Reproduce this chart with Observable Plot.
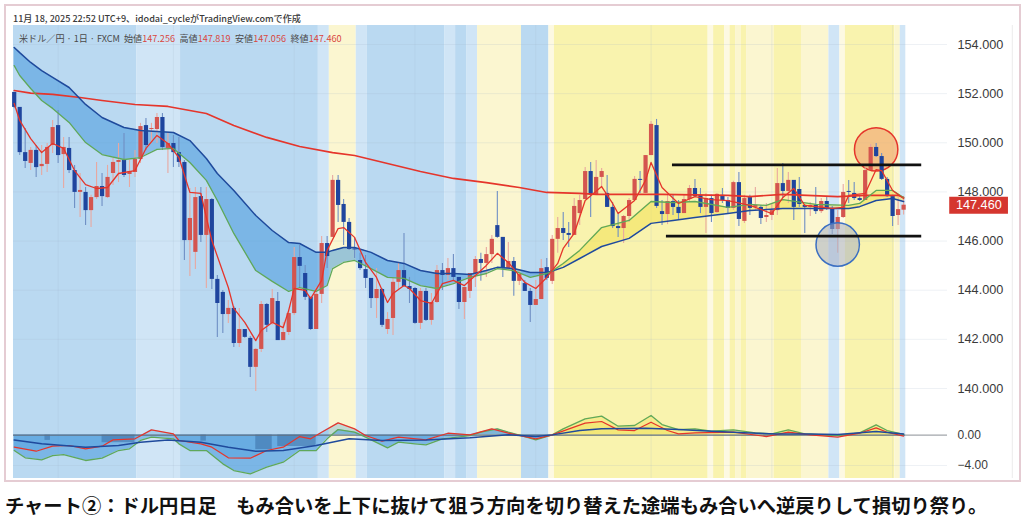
<!DOCTYPE html>
<html lang="ja">
<head>
<meta charset="utf-8">
<script src="https://cdn.jsdelivr.net/npm/d3@7"></script>
<script src="https://cdn.jsdelivr.net/npm/@observablehq/plot@0.6"></script>
<style>
html,body{margin:0;padding:0;background:#fff;}
#page{position:relative;width:1024px;height:521px;overflow:hidden;background:#fff;}
#frame{position:absolute;left:4px;top:4px;width:1013px;height:474px;border:2px solid #e5ccd3;box-sizing:content-box;}
#stamp{position:absolute;left:13px;top:11px;font:500 9.1px "Noto Sans CJK JP","Noto Sans",sans-serif;color:#3a3a3a;white-space:nowrap;}
#legend{position:absolute;left:19px;top:31px;font:400 9.1px "Noto Sans CJK JP","Noto Sans",sans-serif;color:#4a4a4a;white-space:nowrap;z-index:5;}
#legend b{font-weight:400;color:#d9463e;margin-right:4.5px;}
#legend i{font-style:normal;margin-right:4px;}
#priceChart{position:absolute;left:0;top:25px;}
#oscChart{position:absolute;left:0;top:420px;}
#caption{position:absolute;left:5px;top:491px;font:700 19.3px "Noto Sans CJK JP",sans-serif;color:#111;white-space:nowrap;}
svg{display:block;overflow:visible;}
</style>
</head>
<body>
<div id="page">
  <div id="frame"></div>
  <div id="priceChart"></div>
  <div id="oscChart"></div>
  <div id="stamp">11月 18, 2025 22:52 UTC+9、idodai_cycleがTradingView.comで作成</div>
  <div id="legend"><i>米ドル／円 · 1日 · FXCM</i><span>始値</span><b>147.256</b><span>高値</span><b>147.819</b><span>安値</span><b>147.056</b><span>終値</span><b>147.460</b></div>
  <div id="caption">チャート②：ドル円日足　もみ合いを上下に抜けて狙う方向を切り替えた途端もみ合いへ逆戻りして損切り祭り。</div>
</div>
<script>
const openPrice = [152.05,151.44,149.60,149.16,149.69,149.03,149.12,149.89,150.70,149.52,149.77,148.87,147.98,147.98,147.24,147.77,148.22,147.77,148.75,149.20,149.28,148.71,148.79,149.32,150.70,150.54,150.54,151.03,149.77,149.97,149.60,149.20,146.02,145.54,147.81,146.23,147.69,144.44,143.91,143.01,143.26,141.83,142.40,142.04,140.86,141.59,143.42,142.65,143.54,141.95,142.28,143.05,145.33,144.68,143.71,142.40,143.83,145.90,146.15,148.47,147.49,146.76,145.68,145.21,144.84,144.48,143.66,144.03,142.40,142.85,144.32,144.80,144.15,144.07,142.65,143.95,142.77,143.50,144.80,144.60,144.88,144.52,143.50,143.95,144.68,145.25,145.09,145.45,146.63,146.15,144.88,145.17,144.36,144.27,143.95,143.38,143.62,144.92,144.36,146.07,146.51,146.31,146.23,147.12,147.69,148.83,147.86,148.59,147.94,147.37,146.59,146.51,147.00,147.65,148.51,147.94,149.48,150.70,147.20,147.08,147.61,147.37,147.12,147.69,148.14,147.86,147.37,147.73,147.16,147.86,147.65,147.33,148.38,146.80,147.77,147.37,147.37,146.96,147.04,147.24,148.34,148.02,148.47,148.10,147.45,147.37,147.45,147.20,147.61,147.33,146.47,146.96,148.02,147.94,147.73,147.65,148.87,149.81,149.44,148.51,147.81,147.04,147.256];
const closePrice = [151.44,149.60,149.24,149.69,148.99,149.12,149.81,150.62,149.48,149.81,148.87,147.98,148.06,147.24,147.77,148.22,147.81,148.59,149.20,149.28,148.67,148.83,149.32,150.66,149.89,150.58,151.03,149.81,149.97,149.60,149.20,146.02,146.92,147.77,146.23,147.69,144.44,143.46,143.01,143.26,141.83,142.40,142.08,140.86,141.59,143.42,142.57,143.66,141.95,142.28,143.05,145.33,144.97,143.71,142.40,143.83,145.90,145.37,148.47,147.45,146.76,145.66,145.64,144.88,144.48,143.66,144.03,142.57,142.81,144.32,144.80,144.15,144.03,142.65,143.95,142.77,143.50,144.80,144.60,144.88,144.52,143.50,144.11,144.68,145.25,145.09,145.45,146.07,146.15,144.88,145.17,144.36,144.64,143.95,143.38,143.62,144.88,144.48,146.07,146.51,146.31,146.23,147.41,147.65,148.83,147.86,148.59,148.83,147.37,146.59,146.51,147.00,147.65,148.51,148.47,149.48,150.75,147.41,147.08,147.61,147.37,147.12,147.69,148.14,147.81,147.37,147.73,147.12,147.90,147.65,147.33,148.38,146.88,147.73,147.33,147.45,146.92,147.04,147.24,148.34,148.02,148.47,147.37,147.49,147.37,147.45,147.20,147.61,147.33,146.47,146.96,147.98,147.98,147.73,147.65,148.87,149.81,149.44,148.51,147.81,147.00,147.28,147.46];
const highPrice = [152.05,151.44,150.58,149.81,149.89,149.89,149.97,150.91,151.31,150.22,150.22,149.08,148.75,148.18,147.86,149.20,148.75,149.08,149.36,149.97,150.38,149.28,149.69,150.79,150.99,150.79,151.19,151.19,150.42,150.30,150.22,149.28,148.14,148.18,148.18,148.18,147.73,144.60,143.99,143.58,143.34,143.26,142.40,142.12,141.63,143.54,143.46,144.03,143.91,142.69,143.18,145.74,145.82,145.01,143.71,144.11,146.19,146.19,148.67,148.67,147.69,146.92,146.15,145.50,145.41,144.48,144.88,144.07,143.09,144.48,145.09,146.31,144.52,144.11,144.07,144.07,143.87,145.01,145.09,145.29,145.45,144.52,144.11,144.68,145.37,145.50,145.74,146.23,148.02,146.15,145.94,145.33,144.80,144.40,144.07,144.40,145.25,145.29,146.23,146.96,147.16,146.76,147.73,147.86,148.99,149.20,149.28,148.95,148.67,147.57,147.12,147.04,147.73,148.63,148.83,149.48,150.87,150.95,147.65,147.86,147.86,147.65,147.86,148.26,148.51,148.14,147.94,147.86,147.94,148.14,147.77,148.43,148.79,147.86,147.86,148.18,147.45,147.53,147.53,148.95,149.16,148.79,148.47,148.59,147.49,147.57,148.18,147.73,147.77,147.41,147.24,148.30,148.47,148.38,147.86,148.99,149.93,149.97,149.56,148.59,147.86,147.81,147.819];
const lowPrice = [151.39,149.48,148.95,148.87,148.59,148.67,148.79,149.56,149.16,148.14,148.75,147.33,146.96,146.63,146.55,147.69,147.41,147.73,148.26,148.38,148.59,148.18,148.59,149.16,149.69,149.97,149.97,149.69,148.75,148.99,148.99,145.21,144.56,144.84,145.94,144.07,144.03,142.08,142.24,142.65,141.67,141.67,142.04,140.45,139.88,141.47,142.28,142.57,141.95,141.95,142.16,142.97,144.11,143.58,142.36,142.40,143.46,144.88,146.15,146.76,145.82,145.62,145.29,144.80,144.07,143.26,142.85,142.48,142.20,142.16,143.99,144.11,143.46,142.61,142.40,142.73,142.57,143.46,143.99,144.40,144.40,143.22,142.81,143.66,144.11,144.36,144.52,145.09,146.11,144.52,144.80,143.75,144.19,143.95,142.69,143.38,143.62,144.40,144.23,145.50,146.02,145.74,146.23,146.63,147.69,146.96,147.86,148.18,147.37,146.51,146.15,145.90,146.76,147.65,147.94,147.94,149.48,147.33,146.63,146.67,147.04,146.84,147.12,147.57,147.77,147.12,146.31,146.76,147.12,147.53,147.12,147.24,146.59,146.72,147.04,147.24,146.67,146.76,146.84,147.04,147.73,147.53,146.84,147.37,146.31,147.00,147.08,147.12,147.24,146.27,145.50,146.92,147.53,147.65,147.61,147.65,148.87,149.40,148.47,147.77,146.59,146.63,147.056];

const maLongDay = [0,3,7,12,16,22,28,35,40,46,52,58,62,68,74,80,86,92,97,103,106,118,130,134,140,150,155,161,162];
const maLong = [152.13,152.02,151.97,151.84,151.72,151.56,151.48,151.19,150.70,150.22,149.85,149.60,149.48,149.16,148.83,148.55,148.38,148.18,147.98,147.94,147.90,147.90,147.86,147.81,147.90,147.81,147.86,147.86,147.77];

const emaDay = [0,1,3,5,7,9,11,13,15,17,19,22,24,26,28,30,32,34,35,36,39,40,42,44,45,47,49,50,51,53,54,56,57,59,60,62,64,66,68,69,71,72,74,76,78,80,82,84,86,88,90,93,95,97,99,100,102,104,107,109,110,113,115,116,118,121,124,127,130,134,138,140,142,144,149,151,152,155,157,158,160,162];
const ema = [151.60,150.91,150.17,149.60,149.97,149.77,148.87,148.30,148.14,148.18,148.75,148.87,149.77,150.30,149.97,149.40,147.98,147.94,146.96,146.02,144.11,143.26,142.69,141.95,142.36,142.69,142.48,143.18,144.07,143.99,143.66,144.40,145.62,146.51,146.55,146.15,145.13,144.52,143.50,143.87,144.19,144.07,143.58,143.46,144.27,144.40,144.19,144.60,145.01,145.50,145.13,144.32,144.07,144.52,145.09,145.70,146.31,147.65,148.22,147.53,147.12,147.65,148.47,149.20,148.18,147.53,147.81,147.69,147.65,147.45,147.12,147.77,148.14,147.45,147.33,147.37,147.86,147.94,148.91,148.87,148.06,147.73];

const bandDay = [0,1,3,5,7,10,13,16,20,23,26,29,32,35,37,40,44,47,50,52,55,57,58,60,62,65,68,71,74,77,80,83,86,88,91,94,97,98,100,103,107,112,116,120,124,130,134,137,140,146,152,154,157,160,162];
const slowUpper = [153.88,153.67,153.27,152.94,152.66,152.25,151.56,151.03,150.62,150.50,150.46,150.42,150.09,149.36,148.75,148.06,147.04,146.43,145.94,145.90,145.54,145.54,145.62,145.74,145.74,145.54,145.21,145.09,144.80,144.68,144.68,144.64,144.80,144.93,144.88,144.72,144.72,144.78,144.93,145.29,145.78,146.11,146.72,146.84,146.96,147.12,147.24,147.28,147.33,147.33,147.33,147.40,147.65,147.73,147.61];
const slowLower = [153.14,152.74,152.21,151.72,151.40,150.83,150.01,149.52,149.32,149.40,149.73,149.77,149.20,148.47,147.65,146.31,144.80,144.36,143.95,144.11,143.95,144.19,144.88,145.13,145.21,144.88,144.52,144.48,144.19,144.07,144.27,144.52,144.68,144.88,144.80,144.52,144.68,144.78,145.09,145.62,146.55,146.84,147.61,147.57,147.61,147.37,147.49,147.45,147.69,147.49,147.45,147.53,148.06,148.06,147.77];

const oscGreenDay = [0,2,5,7,9,13,16,19,21,23,25,29,30,32,35,38,40,43,46,49,52,55,57,59,62,64,68,70,73,75,78,83,85,88,90,93,95,98,100,104,107,110,113,116,118,121,124,127,131,135,138,141,144,150,154,157,159,162];
const oscGreen = [-2.03,-2.99,-3.26,-2.69,-2.56,-3.34,-3.04,-2.03,-1.81,-0.71,-0.27,-0.49,-1.15,-2.03,-2.03,-3.78,-4.66,-5.10,-4.22,-3.56,-2.03,-2.03,-0.49,0.73,0.38,-0.27,-1.68,-0.93,-1.15,-1.28,-0.49,-0.06,0.38,0.82,0.38,-0.19,-0.63,0.03,0.82,2.14,2.49,1.17,1.26,2.58,1.39,0.73,0.82,0.51,0.69,0.30,0.16,0.69,0.16,-0.06,0.30,1.35,0.60,0.08];
const oscRedDay = [0,4,7,10,13,16,18,22,25,29,30,34,36,39,43,46,49,52,54,56,59,62,64,67,70,75,79,83,87,90,95,98,104,107,110,113,116,119,121,124,131,137,141,145,150,154,157,159,162];
const oscRed = [-1.59,-2.12,-1.46,-1.37,-1.81,-1.46,-0.63,-0.49,0.69,0.16,-0.71,-1.15,-1.59,-2.99,-3.04,-2.03,-1.59,-0.19,-0.49,0.38,1.61,0.82,-0.06,-0.80,-0.27,-0.63,0.25,0.03,0.82,0.25,-0.49,0.03,1.57,1.79,0.69,0.60,1.70,0.60,0.16,0.30,0.38,-0.19,0.38,0.03,-0.27,0.25,0.95,0.38,-0.14];
const oscBlueDay = [0,5,13,19,23,28,34,39,44,49,55,61,67,75,83,90,95,98,103,107,115,121,127,133,139,145,150,157,162];
const oscBlue = [-0.63,-1.15,-1.59,-1.37,-0.93,-0.63,-0.93,-1.59,-2.12,-2.03,-1.37,-0.49,-0.71,-0.63,-0.36,0.03,-0.19,0.03,0.60,0.82,0.91,0.73,0.51,0.30,0.16,0.16,0.08,0.47,0.16];
const histFrom = [5.6,16,34,44,48];
const histTo = [6.6,22,35,47,55];
const histDepth = [-0.7,-1.0,-0.8,-1.9,-1.5];

const bandEdges = [-0.13,22.3,30.3,55.4,57.4,62.3,64.3,78.4,80.4,82.4,84.4,92.4,97.4,98.4,126.4,127.4,129.4,130.4,131.4,132.4,133.4,138.4,143.4,148.4,150.4,151.4,160.4,161.4,162.4];
const bandKinds = ["blue","paleBlue","blue","paleBlue","yellow","paleBlue","blue","paleBlue","blue","paleBlue","yellow","blue","pale","gold","pale","gold","pale","gold","yellow","gold","yellow","gold","yellow","paleBlue","pale","gold","yellow","paleBlue"];
const bandColour = {blue:"#bad9f1",paleBlue:"#d0e5f6",yellow:"#fbf6d0",gold:"#f9f3ae",pale:"#fdf9e2"};

const priceTicks = [140,142,144,146,148,150,152,154];
const oscTicks = [0,-4];
const gridDays = [8,29,51,73,95,116,138,160];
const lastPrice = 147.46;
const upperBox = 149.10, lowerBox = 146.20;
const upperBoxFrom = 119.9, lowerBoxFrom = 118.8, boxTo = 165.3;
const hiCircle = {day:157,price:149.73}, loCircle = {day:150,price:145.86};
const axisEdgeDay = 181.8;

const bars = openPrice.map((o,i)=>({day:i,o,c:closePrice[i],h:highPrice[i],l:lowPrice[i],up:closePrice[i]>=o}));
const ser = (d,v)=>d.map((x,i)=>({day:x,v:v[i]}));
const band = bandDay.map((d,i)=>({day:d,a:slowUpper[i],b:slowLower[i]}));
const bgBands = bandKinds.map((k,i)=>({from:bandEdges[i],to:bandEdges[i+1],fill:bandColour[k]}));
const hist = histFrom.map((f,i)=>({from:f,to:histTo[i],v:histDepth[i]}));

const RED="#e5352b",BLUE="#1f4a9c",GREEN="#5fa85a";
const CANDLE_RED="#d4554f",CANDLE_BLUE="#1f459e",WICK_RED="#e8a8a0",WICK_BLUE="#6f8fc4";
const FONT='"Liberation Sans",Arial,sans-serif';
const xs={type:"linear",domain:[0,162],range:[13.7,903.1]};

const priceSvg=Plot.plot({
  width:1024,height:395,marginTop:0,marginBottom:0,marginLeft:13,marginRight:69,
  style:{fontFamily:FONT,fontSize:"12.7px",color:"#3a3a3a",background:"transparent",overflow:"visible"},
  x:{...xs,axis:null},
  y:{domain:[140,154],range:[363,19],axis:null},
  marks:[
    Plot.rectX(bgBands,{x1:"from",x2:"to",fill:d=>d.fill}),
    Plot.ruleY(priceTicks,{x1:-0.13,x2:170,stroke:"#9fb4c6",strokeOpacity:0.18}),
    Plot.ruleX(gridDays,{stroke:"#9fb4c6",strokeOpacity:0.18}),
    Plot.ruleX([axisEdgeDay],{stroke:"#ececec"}),
    Plot.areaY(band.filter(d=>d.day<=98),{x:"day",y1:"a",y2:"b",fill:"#3b94dc",fillOpacity:0.5}),
    Plot.areaY(band.filter(d=>d.day>=98),{x:"day",y1:"a",y2:"b",fill:"#f2df4c",fillOpacity:0.5}),
    Plot.dot([hiCircle],{x:"day",y:"price",r:21.7,fill:"#f2b27a",fillOpacity:0.75,stroke:RED,strokeWidth:1.5}),
    Plot.ruleX(bars,{x:"day",y1:"l",y2:"h",stroke:d=>d.up?WICK_RED:WICK_BLUE,strokeWidth:1.1}),
    Plot.ruleX(bars,{x:"day",y1:"o",y2:"c",stroke:d=>d.up?CANDLE_RED:CANDLE_BLUE,strokeWidth:4.2}),
    Plot.line(ser(maLongDay,maLong),{x:"day",y:"v",stroke:RED,strokeWidth:1.6}),
    Plot.line(band,{x:"day",y:"a",stroke:BLUE,strokeWidth:1.5}),
    Plot.line(band,{x:"day",y:"b",stroke:GREEN,strokeWidth:1.3}),
    Plot.line(ser(emaDay,ema),{x:"day",y:"v",stroke:RED,strokeWidth:1.3}),
    Plot.dot([loCircle],{x:"day",y:"price",r:21.7,fill:"#a9b0c2",fillOpacity:0.55,stroke:"#3b6fc2",strokeWidth:1.5}),
    Plot.ruleY([upperBox],{x1:upperBoxFrom,x2:boxTo,stroke:"#111",strokeWidth:2.8}),
    Plot.ruleY([lowerBox],{x1:lowerBoxFrom,x2:boxTo,stroke:"#111",strokeWidth:2.8}),
    Plot.axisY(priceTicks,{anchor:"right",tickSize:0,tickPadding:2,tickFormat:d=>d.toFixed(3),label:null}),
    Plot.ruleY([lastPrice],{x1:170.4,x2:181.1,stroke:"#d5362f",strokeWidth:17}),
    Plot.text([lastPrice],{x:175.7,y:d=>d,text:d=>d.toFixed(3),fill:"#fff",fontSize:12.7})
  ]
});
document.getElementById("priceChart").append(priceSvg);

const oscSvg=Plot.plot({
  width:1024,height:58,marginTop:0,marginBottom:0,marginLeft:13,marginRight:69,
  style:{fontFamily:FONT,fontSize:"12px",color:"#3a3a3a",background:"transparent",overflow:"visible"},
  x:{...xs,axis:null},
  y:{domain:[-4,0],range:[45,14.6],axis:null},
  marks:[
    Plot.rectX(bgBands,{x1:"from",x2:"to",fill:d=>d.fill}),
    Plot.ruleY([-4],{x1:-0.13,x2:170,stroke:"#9fb4c6",strokeOpacity:0.18}),
    Plot.ruleX(gridDays,{stroke:"#9fb4c6",strokeOpacity:0.18}),
    Plot.ruleX([axisEdgeDay],{stroke:"#ececec"}),
    Plot.areaY(ser(oscGreenDay,oscGreen).filter(d=>d.day<=98),{x:"day",y1:0,y2:"v",fill:"#3b94dc",fillOpacity:0.5}),
    Plot.areaY(ser(oscRedDay,oscRed).filter(d=>d.day<=98),{x:"day",y1:0,y2:"v",fill:"#3b94dc",fillOpacity:0.3}),
    Plot.areaY(ser(oscGreenDay,oscGreen).filter(d=>d.day>=98),{x:"day",y1:0,y2:"v",fill:"#f2df4c",fillOpacity:0.35}),
    Plot.areaY(ser(oscRedDay,oscRed).filter(d=>d.day>=98),{x:"day",y1:0,y2:"v",fill:"#efe05a",fillOpacity:0.4}),
    Plot.rect(hist,{x1:"from",x2:"to",y1:0,y2:"v",fill:"#3b6fa5",fillOpacity:0.55}),
    Plot.ruleY([0],{x1:-0.13,x2:162.4,stroke:"#5f6f80",strokeWidth:1.4}),
    Plot.ruleY([0],{x1:162.4,x2:170,stroke:"#8a8f95",strokeWidth:1}),
    Plot.line(ser(oscGreenDay,oscGreen),{x:"day",y:"v",stroke:GREEN,strokeWidth:1.3}),
    Plot.line(ser(oscRedDay,oscRed),{x:"day",y:"v",stroke:RED,strokeWidth:1.2}),
    Plot.line(ser(oscBlueDay,oscBlue),{x:"day",y:"v",stroke:BLUE,strokeWidth:1.5}),
    Plot.axisY(oscTicks,{anchor:"right",tickSize:0,tickPadding:2,tickFormat:d=>d===0?"0.00":"−4.00",label:null})
  ]
});
document.getElementById("oscChart").append(oscSvg);
</script>
</body>
</html>
